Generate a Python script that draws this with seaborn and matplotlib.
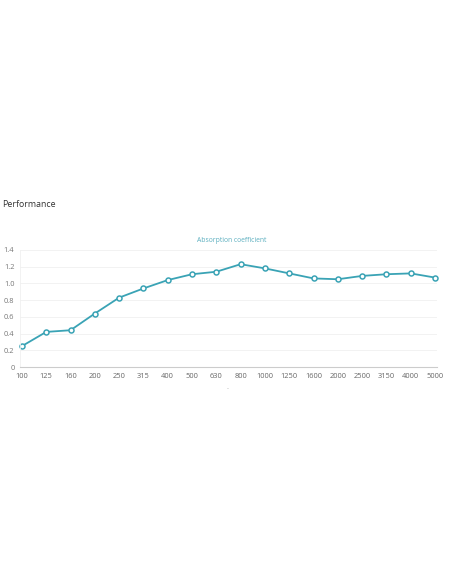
import matplotlib
matplotlib.use("Agg")
import matplotlib.pyplot as plt
import seaborn as sns
import pandas as pd

frequencies = ["100", "125", "160", "200", "250", "315", "400", "500", "630",
               "800", "1000", "1250", "1600", "2000", "2500", "3150", "4000", "5000"]
absorption = [0.25, 0.42, 0.44, 0.64, 0.83, 0.94, 1.04, 1.11, 1.14,
              1.23, 1.18, 1.12, 1.06, 1.05, 1.09, 1.11, 1.12, 1.07]
y_ticks = [0, 0.2, 0.4, 0.6, 0.8, 1.0, 1.2, 1.4]
y_tick_labels = ["0", "0.2", "0.4", "0.6", "0.8", "1.0", "1.2", "1.4"]

df = pd.DataFrame({"freq": frequencies, "alpha": absorption})
df["pos"] = range(len(df))

sns.set_theme(style="white")
plt.rcParams["font.family"] = ["Open Sans", "DejaVu Sans"]

W, H = 452, 584
fig = plt.figure(figsize=(W / 100, H / 100), dpi=100)
left, right, top, bottom = 20, 437, 250, 367
ax = fig.add_axes([left / W, 1 - bottom / H, (right - left) / W, (bottom - top) / H])

color = "#3aa3b5"
sns.lineplot(data=df, x="pos", y="alpha", ax=ax, color=color, linewidth=1.3,
             marker="o", markersize=3.6, markerfacecolor="white",
             markeredgecolor=color, markeredgewidth=1.1)
for ln in ax.lines:
    ln.set_clip_on(False)

ax.set_xlim(-0.08, len(frequencies) - 1 + 0.08)
ax.set_ylim(0, 1.4)
ax.set_xticks(df["pos"])
ax.set_xticklabels(frequencies)
ax.set_yticks(y_ticks)
ax.set_yticklabels(y_tick_labels)
ax.set_xlabel("")
ax.set_ylabel("")
ax.grid(axis="y", color="#f0f0f0", linewidth=0.6)
ax.set_axisbelow(True)
for s in ["top", "right"]:
    ax.spines[s].set_visible(False)
ax.spines["left"].set_color("#f0f0f0")
ax.spines["left"].set_linewidth(0.6)
ax.spines["bottom"].set_color("#cccccc")
ax.spines["bottom"].set_linewidth(0.8)
ax.tick_params(axis="x", length=0, pad=4, labelsize=5.4, labelcolor="#666666")
ax.tick_params(axis="y", length=3, width=0.6, color="#cccccc", pad=1,
               labelsize=5.4, labelcolor="#777777")

fig.text(2 / W, 1 - 204 / H, "Performance", fontsize=6.3, color="#333333",
         ha="left", va="center")
fig.text(232 / W, 1 - 241 / H, "Absorption coefficient", fontsize=4.9,
         color="#5aaebf", ha="center", va="center")
fig.text(228 / W, 1 - 389 / H, "··", fontsize=4, color="#aaaaaa",
         ha="center", va="center")

fig.savefig("out.png", dpi=100)
